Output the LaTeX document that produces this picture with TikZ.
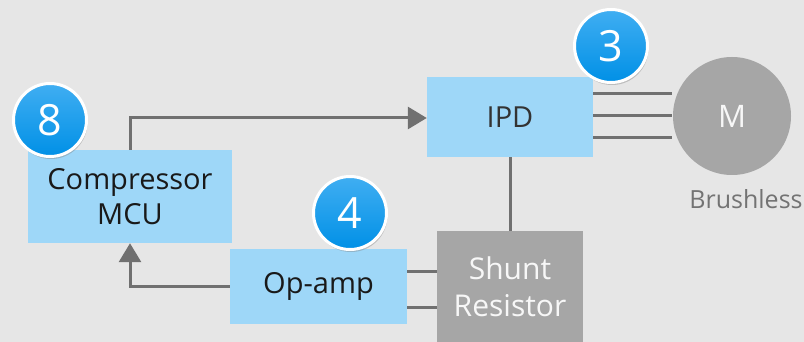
\documentclass[tikz,border=0pt]{standalone}
\usepackage{fontspec}
\setmainfont{Open Sans}
\usetikzlibrary{arrows.meta,shadows}
\definecolor{bg}{HTML}{E6E6E6}
\definecolor{boxblue}{HTML}{9ED7F8}
\definecolor{boxgray}{HTML}{A6A6A6}
\definecolor{wire}{HTML}{707070}
\definecolor{badgetop}{HTML}{40AEF2}
\definecolor{badgebot}{HTML}{0090E6}
\tikzset{
  blk/.style={fill=boxblue, draw=none, inner sep=0pt, align=center, text=black!90,
    font=\fontsize{29}{35}\selectfont},
  gblk/.style={fill=boxgray, draw=none, inner sep=0pt, align=center, text=white!97!black,
    font=\fontsize{30}{37}\selectfont},
  wireline/.style={draw=wire, line width=3pt},
  arr/.style={wireline, -{Triangle[length=19pt,width=22pt]}},
  badge/.style={circle, minimum size=73pt, inner sep=0pt, draw=white, line width=3pt,
    top color=badgetop, bottom color=badgebot, text=white,
    font=\fontsize{43}{45}\selectfont,
    drop shadow={shadow xshift=1pt, shadow yshift=-2.5pt, opacity=0.4}},
}
\begin{document}
\begin{tikzpicture}[x=1pt,y=-1pt]
  \fill[bg] (0,0) rectangle (804,342);
  \useasboundingbox (0,0) rectangle (804,342);

  % blocks
  \node[blk, minimum width=204pt, minimum height=93pt] (mcu) at (130,196.5) {Compressor\\MCU};
  \node[blk, minimum width=166pt, minimum height=80pt, text=black!80] (ipd) at (510,117) {IPD};
  \node[blk, minimum width=177pt, minimum height=75pt] (opamp) at (318.5,286.5) {Op-amp};
  \node[gblk, minimum width=146pt, minimum height=118pt, anchor=north] (shunt) at (510,231) {};
  \node[gblk, anchor=center] (shunttxt) at (510,287) {Shunt\\Resistor};
  \node[circle, fill=boxgray, minimum size=118pt, inner sep=0pt,
        text=white!97!black, font=\fontsize{31}{34}\selectfont] (motor) at (732,116) {M};
  \node[text=black!55, font=\fontsize{25}{28}\selectfont] (brush) at (746,199) {Brushless};

  % connections
  \coordinate (c1) at (130,118);
  \draw[arr] (mcu.north -| c1) -- (c1) -- (ipd.west |- c1);
  \foreach \yy in {94,116,138}
    \draw[wireline] (ipd.east |- 0,\yy) -- (672,\yy);
  \draw[wireline] (ipd.south) -- (shunt.north);
  \draw[wireline] (opamp.east |- 0,271) -- (shunt.west |- 0,271);
  \draw[wireline] (opamp.east |- 0,307) -- (shunt.west |- 0,307);
  \coordinate (c2) at (130,286);
  \draw[arr] (opamp.west |- c2) -- (c2) -- (mcu.south -| c2);

  % numbered badges
  \node[badge] (b8) at (50,120) {8};
  \node[badge] (b3) at (611,46) {3};
  \node[badge] (b4) at (350,213) {4};
\end{tikzpicture}
\end{document}
